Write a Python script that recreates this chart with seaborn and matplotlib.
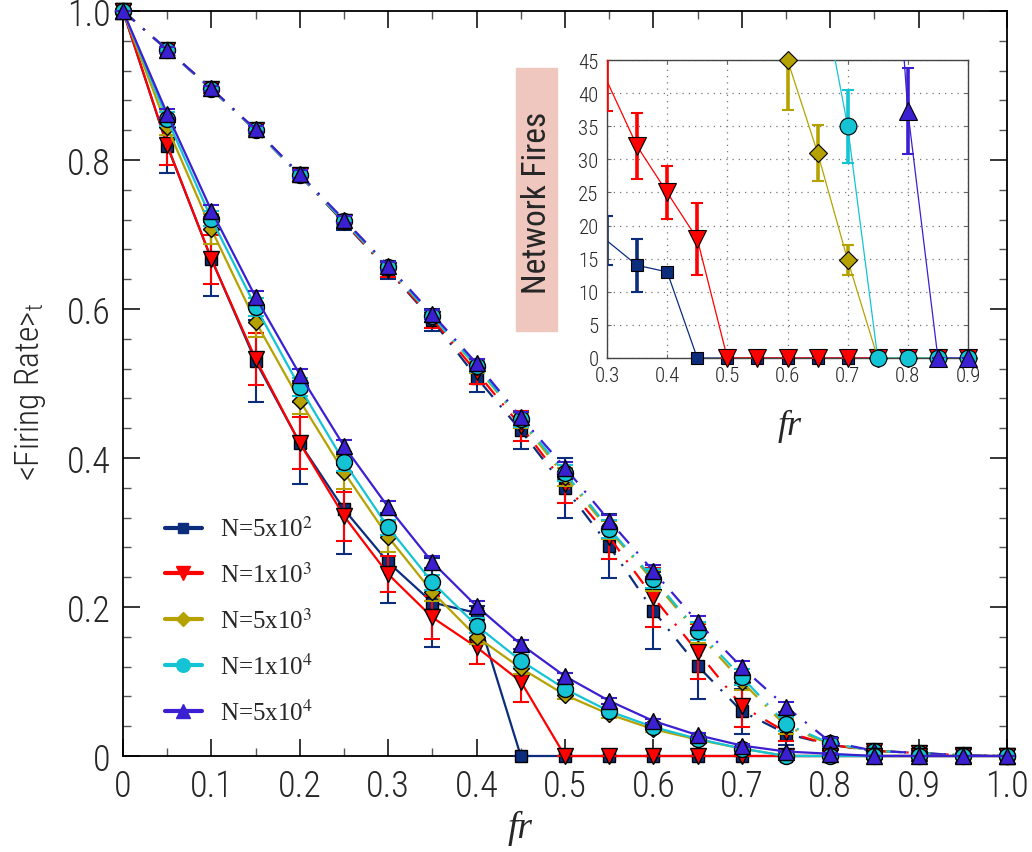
import numpy as np
import matplotlib
matplotlib.use("Agg")
from matplotlib import pyplot as plt
from matplotlib import font_manager
from matplotlib.lines import Line2D
from matplotlib.patches import Rectangle
import seaborn as sns

# fraction removed (fr), main plot
fr = [0.0, 0.05, 0.1, 0.15, 0.2, 0.25, 0.3, 0.35, 0.4, 0.45, 0.5,
      0.55, 0.6, 0.65, 0.7, 0.75, 0.8, 0.85, 0.9, 0.95, 1.0]

labels = ["N=5x10$^{2}$", "N=1x10$^{3}$", "N=5x10$^{3}$", "N=1x10$^{4}$", "N=5x10$^{4}$"]

# solid curves
solid_5e2 = [1.0, 0.819, 0.667, 0.53, 0.42, 0.331, 0.26, 0.206, 0.192, 0, 0, 0, 0, 0, 0, 0, 0, 0, 0, 0, 0]
solid_5e2_err = [0, 0.036, 0.05, 0.055, 0.055, 0.06, 0.054, 0.06, 0.01, 0, 0, 0, 0, 0, 0, 0, 0, 0, 0, 0, 0]
solid_1e3 = [1.0, 0.82, 0.667, 0.533, 0.42, 0.322, 0.244, 0.186, 0.146, 0.1, 0, 0, 0, 0, 0, 0, 0, 0, 0, 0, 0]
solid_1e3_err = [0, 0.027, 0.033, 0.035, 0.035, 0.033, 0.024, 0.029, 0.023, 0.028, 0, 0, 0, 0, 0, 0, 0, 0, 0, 0, 0]
solid_5e3 = [1.0, 0.844, 0.707, 0.583, 0.477, 0.381, 0.294, 0.22, 0.16, 0.118, 0.082, 0.056, 0.036, 0.022, 0.01, 0, 0, 0, 0, 0, 0]
solid_5e3_err = [0, 0.01, 0.02, 0.02, 0.018, 0.022, 0.02, 0.012, 0.01, 0.008, 0.006, 0.005, 0.004, 0.003, 0.002, 0, 0, 0, 0, 0, 0]
solid_1e4 = [1.0, 0.855, 0.721, 0.603, 0.495, 0.395, 0.307, 0.233, 0.175, 0.128, 0.09, 0.06, 0.039, 0.023, 0.01, 0, 0, 0, 0, 0, 0]
solid_1e4_err = [0, 0.01, 0.01, 0.012, 0.012, 0.012, 0.01, 0.01, 0.01, 0.008, 0.006, 0.005, 0.004, 0.003, 0.002, 0, 0, 0, 0, 0, 0]
solid_5e4 = [1.0, 0.862, 0.732, 0.616, 0.512, 0.416, 0.334, 0.26, 0.201, 0.15, 0.107, 0.074, 0.047, 0.028, 0.014, 0.006, 0.003, 0, 0, 0, 0]
solid_5e4_err = [0, 0.006, 0.008, 0.008, 0.008, 0.008, 0.008, 0.008, 0.007, 0.006, 0.005, 0.004, 0.003, 0.003, 0.002, 0.001, 0.001, 0, 0, 0, 0]

# dash-dot curves
dash_5e2 = [1.0, 0.948, 0.895, 0.84, 0.779, 0.716, 0.652, 0.585, 0.508, 0.437, 0.36, 0.282, 0.195, 0.121, 0.06, 0.03, 0.015, 0.007, 0.004, 0.001, 0]
dash_5e2_err = [0, 0.004, 0.005, 0.006, 0.008, 0.01, 0.012, 0.015, 0.02, 0.025, 0.04, 0.043, 0.052, 0.044, 0.03, 0.015, 0.01, 0.005, 0.003, 0.001, 0]
dash_1e3 = [1.0, 0.948, 0.895, 0.84, 0.78, 0.717, 0.653, 0.587, 0.515, 0.443, 0.365, 0.294, 0.213, 0.14, 0.067, 0.032, 0.015, 0.007, 0.004, 0.001, 0]
dash_1e3_err = [0, 0.004, 0.005, 0.006, 0.007, 0.008, 0.01, 0.012, 0.015, 0.02, 0.025, 0.03, 0.04, 0.037, 0.028, 0.012, 0.008, 0.005, 0.003, 0.001, 0]
dash_5e3 = [1.0, 0.948, 0.895, 0.84, 0.78, 0.718, 0.655, 0.59, 0.522, 0.45, 0.375, 0.303, 0.235, 0.165, 0.1, 0.04, 0.016, 0.007, 0.004, 0.001, 0]
dash_5e3_err = [0, 0.004, 0.004, 0.005, 0.005, 0.006, 0.006, 0.007, 0.008, 0.01, 0.012, 0.012, 0.014, 0.013, 0.012, 0.01, 0.006, 0.004, 0.002, 0.001, 0]
dash_1e4 = [1.0, 0.948, 0.895, 0.84, 0.78, 0.718, 0.656, 0.59, 0.523, 0.452, 0.38, 0.305, 0.238, 0.168, 0.106, 0.043, 0.017, 0.007, 0.004, 0.001, 0]
dash_1e4_err = [0, 0.004, 0.004, 0.005, 0.005, 0.006, 0.006, 0.007, 0.008, 0.01, 0.011, 0.012, 0.013, 0.012, 0.011, 0.01, 0.006, 0.004, 0.002, 0.001, 0]
dash_5e4 = [1.0, 0.948, 0.896, 0.841, 0.781, 0.72, 0.658, 0.593, 0.527, 0.455, 0.387, 0.316, 0.248, 0.18, 0.119, 0.066, 0.019, 0.007, 0.004, 0.001, 0]
dash_5e4_err = [0, 0.004, 0.004, 0.004, 0.005, 0.005, 0.005, 0.006, 0.006, 0.007, 0.007, 0.008, 0.008, 0.008, 0.008, 0.007, 0.005, 0.003, 0.002, 0.001, 0]

# inset: network fires
fr_in = [0.3, 0.35, 0.4, 0.45, 0.5, 0.55, 0.6, 0.65, 0.7, 0.75, 0.8, 0.85, 0.9]
nan = np.nan
fires_5e2 = [17.7, 14, 13, 0, 0, 0, 0, 0, 0, 0, 0, 0, 0]
fires_5e2_err = [3.7, 4, 0.3, 0, 0, 0, 0, 0, 0, 0, 0, 0, 0]
fires_1e3 = [41.8, 32, 25, 18, 0, 0, 0, 0, 0, 0, 0, 0, 0]
fires_1e3_err = [4.5, 5, 4, 5.4, 0, 0, 0, 0, 0, 0, 0, 0, 0]
fires_5e3 = [nan, nan, nan, nan, nan, nan, 45, 31, 14.8, 0, 0, 0, 0]
fires_5e3_err = [nan, nan, nan, nan, nan, nan, 7.5, 4.2, 2.3, 0, 0, 0, 0]
fires_1e4 = [nan, nan, nan, nan, nan, nan, nan, 59, 35, 0, 0, 0, 0]
fires_1e4_err = [nan, nan, nan, nan, nan, nan, nan, 0, 5.5, 0, 0, 0, 0]
fires_5e4 = [nan, nan, nan, nan, nan, nan, nan, nan, nan, 101, 37.3, 0, 0]
fires_5e4_err = [nan, nan, nan, nan, nan, nan, nan, nan, nan, 0, 6.5, 0, 0]

sns.set_style("ticks")
avail = {f.name for f in font_manager.fontManager.ttflist}
cond = next((n for n in ["Roboto Condensed", "Liberation Sans Narrow", "Open Sans Condensed",
                         "Roboto", "DejaVu Sans"] if n in avail), "DejaVu Sans")
plt.rcParams["font.family"] = [cond, "DejaVu Sans"]
plt.rcParams["mathtext.fontset"] = "stix"

colors = ["#0b2d7c", "#ff0000", "#b5a200", "#14c4d4", "#3b20d2"]
markers = ["s", "v", "D", "o", "^"]
msizes = [8.5, 12, 8.5, 11.5, 12]
dashdot = (0, (7, 5, 1, 5))

fig = plt.figure(figsize=(10.32, 8.53), dpi=100)
ax = fig.add_axes([123 / 1032, 1 - 757 / 853, 884 / 1032, 745 / 853])

series = [
    (dash_5e2, dash_5e2_err, 0, dashdot), (dash_1e3, dash_1e3_err, 1, dashdot),
    (dash_5e3, dash_5e3_err, 2, dashdot), (dash_1e4, dash_1e4_err, 3, dashdot),
    (dash_5e4, dash_5e4_err, 4, dashdot),
    (solid_5e2, solid_5e2_err, 0, "-"), (solid_1e3, solid_1e3_err, 1, "-"),
    (solid_5e3, solid_5e3_err, 2, "-"), (solid_1e4, solid_1e4_err, 3, "-"),
    (solid_5e4, solid_5e4_err, 4, "-"),
]
z = 2
for vals, errs, k, ls in series:
    ax.errorbar(fr, vals, yerr=errs, fmt="none", ecolor=colors[k], elinewidth=1.5,
                capsize=6, capthick=1.5, zorder=z, clip_on=False)
    sns.lineplot(x=fr, y=vals, ax=ax, color=colors[k], linestyle=ls, lw=1.6,
                 marker=markers[k], ms=msizes[k], mec="black", mew=1.0,
                 clip_on=False, zorder=z + 0.5)
    z += 1

ax.set_xlim(0, 1)
ax.set_ylim(0, 1)
ax.set_xticks(np.arange(0, 1.01, 0.1))
ax.set_xticklabels(["0", "0.1", "0.2", "0.3", "0.4", "0.5", "0.6", "0.7", "0.8", "0.9", "1.0"])
ax.set_xticks(np.arange(0.05, 1.0, 0.1), minor=True)
ax.set_yticks(np.arange(0, 1.01, 0.2))
ax.set_yticklabels(["0", "0.2", "0.4", "0.6", "0.8", "1.0"])
ax.set_yticks([v for v in np.arange(0, 1.001, 0.04) if abs(v / 0.2 - round(v / 0.2)) > 1e-6], minor=True)
ax.tick_params(which="both", direction="in", top=True, right=True, labelsize=26)
ax.tick_params(which="major", length=12, width=1.3, pad=9)
ax.tick_params(which="minor", length=6, width=1.0, color="#555555")
for lbl in ax.get_xticklabels() + ax.get_yticklabels():
    lbl.set_fontweight("light")
for s in ax.spines.values():
    s.set_linewidth(1.3)
    s.set_color("black")
ax.set_xlabel("")
ax.set_ylabel("")

fig.text(520 / 1032, 1 - 828 / 853, "fr", fontsize=27, fontstyle="italic",
         family="Liberation Serif", ha="center", va="center")
fig.text(31 / 1032, 1 - 392 / 853, "<Firing Rate>$_{\\mathregular{t}}$", fontsize=24,
         fontweight="light", rotation=90, ha="center", va="center")

# legend
handles = [Line2D([], [], color=colors[k], lw=3, marker=markers[k], ms=msizes[k] * 0.85,
                  mec=colors[k]) for k in range(5)]
leg = ax.legend(handles, labels, loc="upper left", bbox_to_anchor=(142 / 1032, 1 - 495 / 853),
                bbox_transform=fig.transFigure, frameon=False, handlelength=1.5,
                handletextpad=0.7, labelspacing=0.83,
                prop={"family": "Liberation Serif", "size": 18})

# inset
axi = fig.add_axes([607 / 1032, 1 - 359 / 853, 361 / 1032, 298 / 853])
inset = [(fires_5e2, fires_5e2_err), (fires_1e3, fires_1e3_err), (fires_5e3, fires_5e3_err),
         (fires_1e4, fires_1e4_err), (fires_5e4, fires_5e4_err)]
z = 2
for k, (vals, errs) in enumerate(inset):
    v = np.array(vals, dtype=float)
    x = np.array(fr_in)
    axi.errorbar(x, v, yerr=errs, fmt="none", ecolor=colors[k], elinewidth=2.6,
                 capsize=4.5, capthick=1.5, zorder=z)
    sns.lineplot(x=x, y=v, ax=axi, color=colors[k], lw=0.9, zorder=z + 0.3)
    show = (v <= 45.01) & (x > 0.31)
    axi.plot(x[show], v[show], ls="none", marker=markers[k], ms=msizes[k] * 1.05,
             mfc=colors[k], mec="black", mew=0.8, clip_on=False, zorder=z + 0.6)
    z += 1

axi.set_xlim(0.3, 0.9)
axi.set_ylim(0, 45)
axi.set_xticks(np.arange(0.3, 0.91, 0.1))
axi.set_xticklabels(["0.3", "0.4", "0.5", "0.6", "0.7", "0.8", "0.9"])
axi.set_yticks(np.arange(0, 46, 5))
axi.tick_params(direction="in", top=True, right=True, labelsize=15, length=3, pad=6,
                color="#666666")
for lbl in axi.get_xticklabels() + axi.get_yticklabels():
    lbl.set_fontweight("light")
axi.grid(True, ls=(0, (1, 4)), color="#777777", lw=0.9)
for s in axi.spines.values():
    s.set_linewidth(1.0)
    s.set_color("#444444")
axi.set_xlabel("")
axi.set_ylabel("")
fig.text(790 / 1032, 1 - 426 / 853, "fr", fontsize=26, fontstyle="italic",
         family="Liberation Serif", ha="center", va="center")

fig.patches.append(Rectangle((516 / 1032, 1 - 332 / 853), 41 / 1032, 263 / 853,
                             transform=fig.transFigure, color="#efc7bf", zorder=0))
fig.text(537 / 1032, 1 - 203 / 853, "Network Fires", fontsize=24, rotation=90,
         ha="center", va="center")

fig.savefig("out.png", dpi=100)
